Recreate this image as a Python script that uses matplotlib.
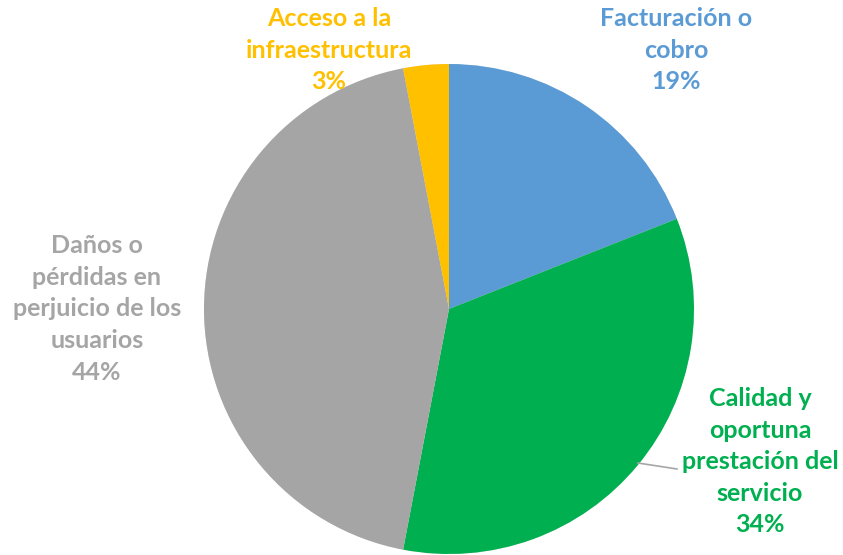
import matplotlib
matplotlib.use("Agg")
import matplotlib.pyplot as plt
import matplotlib.patheffects as pe

categories = ["Facturación o\ncobro", "Calidad y\noportuna\nprestación del\nservicio",
              "Daños o\npérdidas en\nperjuicio de los\nusuarios", "Acceso a la\ninfraestructura"]
values = [19, 34, 44, 3]
colors = ["#5B9BD5", "#00B050", "#A5A5A5", "#FFC000"]

plt.rcParams['font.family'] = ['Lato', 'DejaVu Sans']

fig = plt.figure(figsize=(8.43, 5.55), dpi=100)
fig.patch.set_facecolor("white")
ax = fig.add_axes([(449 - 245) / 843, (555 - 309 - 245) / 555, 490 / 843, 490 / 555])

wedges, _ = ax.pie(values, colors=colors, startangle=90, counterclock=False, radius=1,
                   center=(0, 0), wedgeprops=dict(linewidth=0))
ax.set_xlim(-1, 1)
ax.set_ylim(-1, 1)
ax.set_aspect('equal')
ax.axis('off')
for w in wedges:
    w.set_path_effects([pe.SimplePatchShadow(offset=(0, 0), shadow_rgbFace='#b0b0b0', alpha=0.4), pe.Normal()])

label_pos = [(0.927, 1.057), (1.269, -0.624), (-1.437, 0.0), (-0.49, 1.057)]
for cat, v, c, (x, y) in zip(categories, values, colors, label_pos):
    ax.text(x, y, f"{cat}\n{v}%", color=c, fontsize=18, fontweight='bold',
            ha='center', va='center', linespacing=1.45, clip_on=False)

# leader line for the Calidad label
ax.plot([(638 - 449) / 245, (677 - 449) / 245], [(309 - 463) / 245, (309 - 469) / 245],
        color="#A6A6A6", lw=1.2, clip_on=False)

fig.savefig("out.png", dpi=100, facecolor="white")
